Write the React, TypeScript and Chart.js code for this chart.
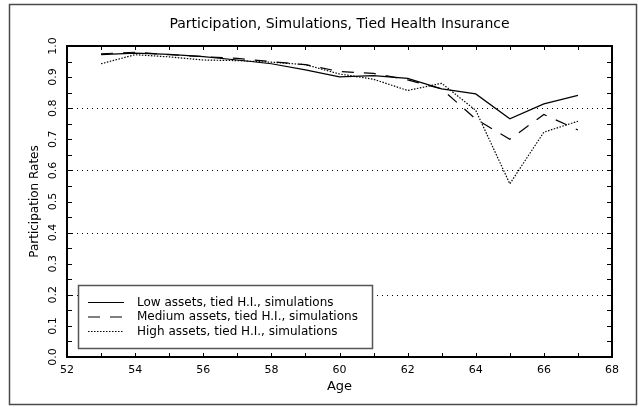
import React, { useEffect, useRef } from "react";
import { Chart, registerables } from "chart.js";

Chart.register(...registerables);

const FONT = "DejaVu Sans";

const ages = [53, 54, 55, 56, 57, 58, 59, 60, 61, 62, 63, 64, 65, 66, 67];
const lowAssets = [0.972, 0.977, 0.973, 0.966, 0.955, 0.943, 0.923, 0.901, 0.905, 0.896, 0.862, 0.846, 0.766, 0.814, 0.841];
const mediumAssets = [0.975, 0.98, 0.972, 0.966, 0.96, 0.95, 0.94, 0.918, 0.912, 0.891, 0.862, 0.765, 0.7, 0.78, 0.73];
const highAssets = [0.943, 0.972, 0.965, 0.955, 0.953, 0.948, 0.94, 0.91, 0.893, 0.857, 0.88, 0.793, 0.557, 0.723, 0.758];

const seriesLabels = [
  "Low assets, tied H.I., simulations",
  "Medium assets, tied H.I., simulations",
  "High assets, tied H.I., simulations",
];
const xTickLabels = ["52", "54", "56", "58", "60", "62", "64", "66", "68"];
const yTickLabels = ["0.0", "0.1", "0.2", "0.3", "0.4", "0.5", "0.6", "0.7", "0.8", "0.9", "1.0"];
const gridValues = [0.2, 0.4, 0.6, 0.8];

const decorPlugin = {
  id: "decor",
  beforeDatasetsDraw(chart: any) {
    const { ctx, chartArea } = chart;
    const y = chart.scales.y;
    ctx.save();
    ctx.strokeStyle = "#000";
    ctx.lineWidth = 1;
    ctx.setLineDash([1, 4]);
    gridValues.forEach((v) => {
      const py = Math.round(y.getPixelForValue(v)) + 0.5;
      ctx.beginPath();
      ctx.moveTo(chartArea.left, py);
      ctx.lineTo(chartArea.right, py);
      ctx.stroke();
    });
    ctx.restore();
  },
  afterDraw(chart: any) {
    const { ctx, chartArea } = chart;
    const xs = chart.scales.x;
    const ys = chart.scales.y;
    const { left, right, top, bottom } = chartArea;
    ctx.save();
    ctx.setLineDash([]);
    // outer frame
    ctx.strokeStyle = "#4a4a4a";
    ctx.lineWidth = 1.5;
    ctx.strokeRect(9.5, 4.5, 627, 400);
    // plot box
    ctx.strokeStyle = "#000";
    ctx.lineWidth = 2;
    ctx.strokeRect(left, top, right - left, bottom - top);
    // ticks
    ctx.lineWidth = 1;
    xs.ticks.forEach((t: any) => {
      const px = Math.round(xs.getPixelForValue(t.value)) + 0.5;
      ctx.beginPath();
      ctx.moveTo(px, bottom);
      ctx.lineTo(px, bottom - 4);
      ctx.moveTo(px, top);
      ctx.lineTo(px, top + 4);
      ctx.stroke();
    });
    ys.ticks.forEach((t: any) => {
      const py = Math.round(ys.getPixelForValue(t.value)) + 0.5;
      ctx.beginPath();
      ctx.moveTo(left, py);
      ctx.lineTo(left + 5, py);
      ctx.moveTo(right, py);
      ctx.lineTo(right - 5, py);
      ctx.stroke();
    });
    // y tick labels (rotated)
    ctx.fillStyle = "#000";
    ctx.font = `11px "${FONT}"`;
    ctx.textAlign = "center";
    ctx.textBaseline = "middle";
    yTickLabels.forEach((lab) => {
      const py = ys.getPixelForValue(parseFloat(lab));
      ctx.save();
      ctx.translate(left - 14, py);
      ctx.rotate(-Math.PI / 2);
      ctx.fillText(lab, 0, 0);
      ctx.restore();
    });
    // legend
    const lx = 78.5, ly = 285.5, lw = 294, lh = 63;
    ctx.fillStyle = "#fff";
    ctx.fillRect(lx, ly, lw, lh);
    ctx.strokeStyle = "#555";
    ctx.lineWidth = 1.5;
    ctx.strokeRect(lx, ly, lw, lh);
    chart.data.datasets.forEach((ds: any, i: number) => {
      const ry = 302.5 + i * 14.5;
      ctx.strokeStyle = "#000";
      ctx.lineWidth = 1.2;
      ctx.setLineDash(ds.borderDash || []);
      ctx.beginPath();
      ctx.moveTo(88, ry);
      ctx.lineTo(124, ry);
      ctx.stroke();
      ctx.setLineDash([]);
      ctx.fillStyle = "#000";
      ctx.font = `12px "${FONT}"`;
      ctx.textAlign = "left";
      ctx.textBaseline = "middle";
      ctx.fillText(ds.label, 137, ry);
    });
    ctx.restore();
  },
};

export default function App() {
  const ref = useRef<HTMLCanvasElement>(null);
  useEffect(() => {
    if (!ref.current) return;
    const chart = new Chart(ref.current, {
      type: "line",
      data: {
        labels: ages,
        datasets: [
          { label: seriesLabels[0], data: ages.map((a, i) => ({ x: a, y: lowAssets[i] })), borderColor: "#000", borderWidth: 1.2, pointRadius: 0, tension: 0, fill: false },
          { label: seriesLabels[1], data: ages.map((a, i) => ({ x: a, y: mediumAssets[i] })), borderColor: "#000", borderWidth: 1.2, borderDash: [12, 10], pointRadius: 0, tension: 0, fill: false },
          { label: seriesLabels[2], data: ages.map((a, i) => ({ x: a, y: highAssets[i] })), borderColor: "#000", borderWidth: 1.2, borderDash: [1.5, 1.5], pointRadius: 0, tension: 0, fill: false },
        ],
      },
      options: {
        animation: false,
        responsive: false,
        devicePixelRatio: 1,
        layout: { padding: 0 },
        plugins: {
          legend: { display: false },
          tooltip: { enabled: false },
          title: {
            display: true,
            fullSize: false,
            text: "Participation, Simulations, Tied Health Insurance",
            color: "#000",
            font: { family: FONT, size: 14, weight: "normal" },
            padding: { top: 16, bottom: 13.2 },
          },
        },
        scales: {
          x: {
            type: "linear",
            min: 52,
            max: 68,
            grid: { display: false, drawTicks: false },
            border: { display: false },
            ticks: {
              stepSize: 1,
              autoSkip: false,
              maxRotation: 0,
              minRotation: 0,
              padding: 7,
              color: "#000",
              font: { family: FONT, size: 11 },
              callback: (v: any) => (xTickLabels.includes(String(v)) ? String(v) : ""),
            },
            title: {
              display: true,
              text: "Age",
              color: "#000",
              font: { family: FONT, size: 13 },
              padding: { top: 0, bottom: 13 },
            },
            afterFit: (s: any) => { s.height = 50; },
          },
          y: {
            type: "linear",
            position: "left",
            min: 0,
            max: 1,
            grid: { display: false, drawTicks: false },
            border: { display: false },
            ticks: { stepSize: 0.05, display: false },
            title: {
              display: true,
              text: "Participation Rates",
              color: "#000",
              font: { family: FONT, size: 12 },
              padding: { top: 28, bottom: 0 },
            },
            afterFit: (s: any) => { s.width = 67; },
          },
          y2: {
            type: "linear",
            position: "right",
            min: 0,
            max: 1,
            grid: { display: false, drawTicks: false },
            border: { display: false },
            ticks: { display: false },
            afterFit: (s: any) => { s.width = 27; },
          },
        },
      },
      plugins: [decorPlugin],
    });
    return () => chart.destroy();
  }, []);
  return (
    <div style={{ position: "absolute", left: 0, top: 0, width: 639, height: 407, background: "#fff" }}>
      <canvas ref={ref} width={639} height={407} style={{ display: "block" }} />
    </div>
  );
}
